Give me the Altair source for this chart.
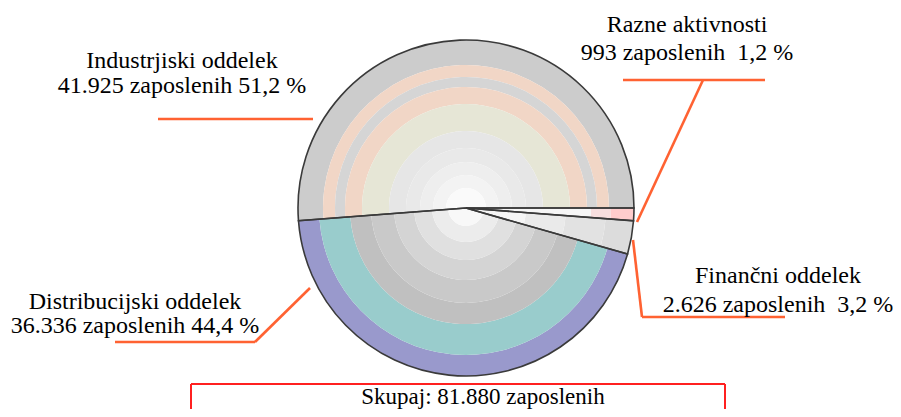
import math
import altair as alt
import pandas as pd

# ---------------- data ----------------
categories = ["Razne aktivnosti", "Finančni oddelek", "Distribucijski oddelek", "Industrjiski oddelek"]
employees = [993, 2626, 36336, 41925]
total_label = "Skupaj"

# ---------------- styles / layout (page pixel coordinates) ----------------
W, H = 885, 401
CX, CY = 466, 208          # pie centre (page px)
R = 168
FONT = "Liberation Serif"
ORANGE = "#ff6232"

# concentric bands per slice: (inner radius, outer radius, colour)
bands = {
    "Industrjiski oddelek": [
        (143, R, "#cccccc"), (131, 143, "#f1d6c6"), (121, 131, "#d5d5d5"),
        (104, 121, "#f1d6c6"), (77, 104, "#e6e6d6"), (60, 77, "#e6e6e6"),
        (46, 60, "#e9e9e9"), (33, 46, "#eeeeee"), (20, 33, "#f3f3f3"), (0, 20, "#fafafa"),
    ],
    "Distribucijski oddelek": [
        (147, R, "#9999cc"), (116, 147, "#99cccc"), (95, 116, "#c0c0c0"),
        (72, 95, "#c9c9c9"), (52, 72, "#d4d4d4"), (34, 52, "#e0e0e0"),
        (18, 34, "#ececec"), (0, 18, "#f8f8f8"),
    ],
    "Finančni oddelek": [
        (140, R, "#dcdcdc"), (100, 140, "#e2e2e2"), (60, 100, "#eaeaea"), (0, 60, "#f5f5f5"),
    ],
    "Razne aktivnosti": [
        (145, R, "#ffcccc"), (125, 145, "#f7dede"), (0, 125, "#f6f6f6"),
    ],
}

# label layout: centre x, baselines
label_pos = {
    "Industrjiski oddelek": (182, 68, 93),
    "Razne aktivnosti": (687, 32, 60),
    "Finančni oddelek": (778, 283, 312),
    "Distribucijski oddelek": (135, 309, 333),
}
spacer = {"Industrjiski oddelek": " ", "Distribucijski oddelek": " ",
          "Razne aktivnosti": " \u00a0", "Finančni oddelek": " \u00a0"}
total_pos = (483, 403.5)

# leader line segments (page px)
leaders = [
    (158, 119, 313, 119),
    (623, 80, 765, 80), (703, 80, 637, 222),
    (633, 240, 642, 317), (642, 317, 785, 317),
    (310, 288, 255, 342), (255, 342, 115, 342),
]

# ---------------- build tables ----------------
total = sum(employees)
cum = 0
slice_rows, band_rows = [], []
for cat, v in zip(categories, employees):
    start, end = cum, cum + v
    cum = end
    slice_rows.append({"cat": cat, "start": start, "end": end})
    for r0, r1, col in bands[cat]:
        band_rows.append({"cat": cat, "start": start, "end": end, "r0": r0, "r1": r1, "col": col})
slices = pd.DataFrame(slice_rows)
band_df = pd.DataFrame(band_rows)

def fmt_int(n):
    return f"{n:,}".replace(",", ".")

text_rows = []
for cat, v in zip(categories, employees):
    x, b1, b2 = label_pos[cat]
    pct = f"{v / total * 100:.1f}".replace(".", ",")
    text_rows.append({"x": x, "y": b1, "t": cat})
    text_rows.append({"x": x, "y": b2, "t": f"{fmt_int(v)} zaposlenih{spacer[cat]}{pct} %"})
texts = pd.DataFrame(text_rows)
total_text = pd.DataFrame([{"x": total_pos[0], "y": total_pos[1],
                            "t": f"{total_label}: {fmt_int(total)} zaposlenih"}])

lead_df = pd.DataFrame(leaders, columns=["x", "y", "x2", "y2"])
box_df = pd.DataFrame([(191, 384, 725, 384), (191, 384, 191, 420), (725, 384, 725, 420)],
                      columns=["x", "y", "x2", "y2"])

xs = alt.Scale(domain=[8, 8 + W], range=[0, W])
ys = alt.Scale(domain=[8, 8 + H], range=[0, H])
theta_scale = alt.Scale(domain=[0, total], range=[math.pi / 2, math.pi / 2 + 2 * math.pi])
cx, cy = CX - 8, CY - 8

pie_bands = alt.Chart(band_df).mark_arc(stroke=None).encode(
    theta=alt.Theta("start:Q", scale=theta_scale),
    theta2="end:Q",
    radius=alt.Radius("r1:Q", scale=None),
    radius2="r0:Q",
    color=alt.Color("col:N", scale=None),
    x=alt.value(cx), y=alt.value(cy),
)

pie_outline = alt.Chart(slices).mark_arc(
    fillOpacity=0, stroke="#3a3a3a", strokeWidth=1.6, radius=R
).encode(
    theta=alt.Theta("start:Q", scale=theta_scale),
    theta2="end:Q",
    x=alt.value(cx), y=alt.value(cy),
)

lines = alt.Chart(lead_df).mark_rule(color=ORANGE, strokeWidth=2.6).encode(
    x=alt.X("x:Q", scale=xs, axis=None), y=alt.Y("y:Q", scale=ys, axis=None),
    x2="x2:Q", y2="y2:Q",
)

box = alt.Chart(box_df).mark_rule(color="#ff2020", strokeWidth=2).encode(
    x=alt.X("x:Q", scale=xs, axis=None), y=alt.Y("y:Q", scale=ys, axis=None),
    x2="x2:Q", y2="y2:Q",
)

labels = alt.Chart(texts).mark_text(
    font=FONT, fontSize=24, color="#000000", align="center", baseline="alphabetic"
).encode(
    x=alt.X("x:Q", scale=xs, axis=None), y=alt.Y("y:Q", scale=ys, axis=None), text="t:N",
)

total_label_mark = alt.Chart(total_text).mark_text(
    font=FONT, fontSize=23, color="#000000", align="center", baseline="alphabetic"
).encode(
    x=alt.X("x:Q", scale=xs, axis=None), y=alt.Y("y:Q", scale=ys, axis=None), text="t:N",
)

chart = alt.layer(pie_bands, pie_outline, lines, box, labels, total_label_mark).properties(
    width=W, height=H, padding=0, autosize=alt.AutoSizeParams(type="none"),
    background="#ffffff",
).configure_view(stroke=None)

chart.save("out.html", embed_options={"renderer": "svg", "actions": False})
